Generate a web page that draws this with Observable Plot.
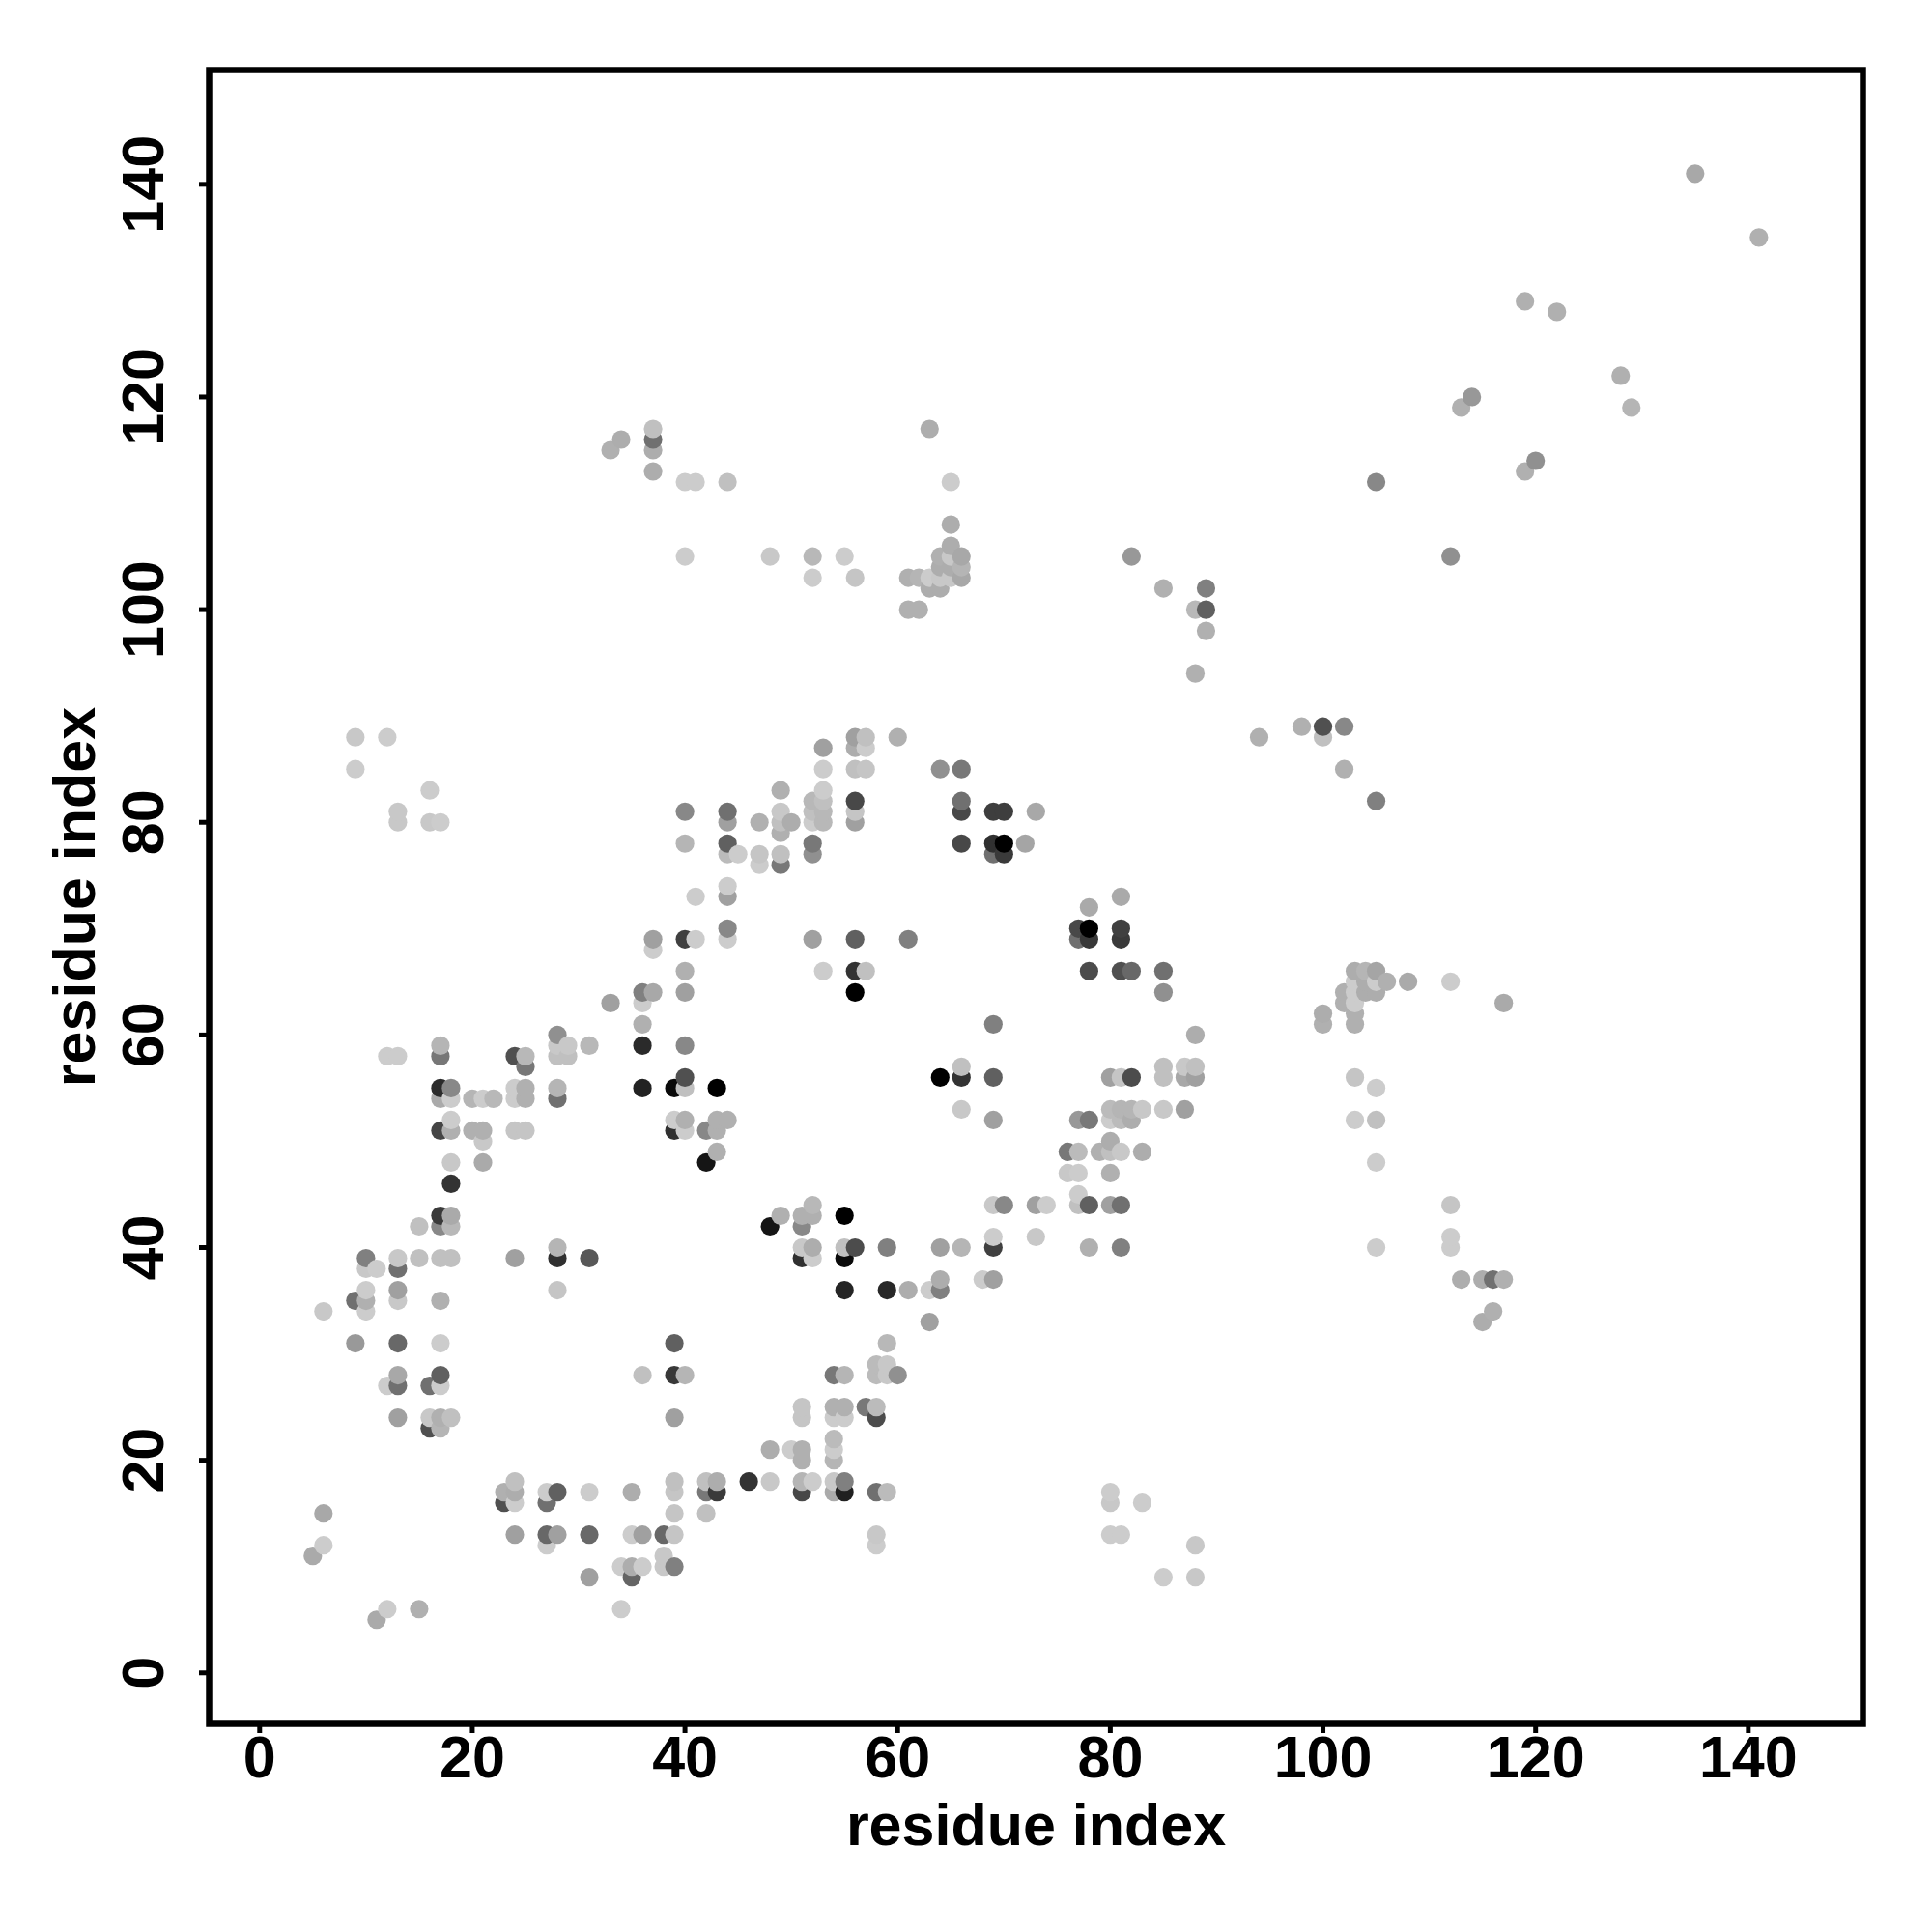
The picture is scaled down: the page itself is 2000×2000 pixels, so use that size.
<!DOCTYPE html>
<html>
<head>
<meta charset="utf-8">
<script src="https://cdn.jsdelivr.net/npm/d3@7"></script>
<script src="https://cdn.jsdelivr.net/npm/@observablehq/plot@0.6"></script>
<style>
html,body{margin:0;padding:0;background:#fff}
svg{display:block}
</style>
</head>
<body>
<div id="chart"></div>
<script>
const residueX = [5,6,9,10,11,12,13,15,16,17,18,20,21,22,23,24,25,27,28,29,31,33,34,35,36,37,38,39,40,41,42,43,44,45,46,47,48,49,50,51,52,53,54,55,56,57,58,59,60,61,62,63,64,65,66,68,69,70,72,73,74,76,77,78,79,80,81,82,83,85,87,88,89,94,98,100,102,103,104,105,106,108,112,113,114,115,116,117,119,120,122,128,129,135,141];
const residueY = [
[11],[12,15,34],[31,35,85,88],[34,35,36,38,39],[5,38],[6,27,58,88],
[24,27,28,31,35,36,38,39,58,80,81],[6,39,42],[23,24,27,80,83],
[23,24,27,28,31,35,39,42,43,51,54,55,58,59,80],[24,39,42,43,46,48,51,52,54,55],
[51,54],[48,50,51,54],[54],[16,17],[13,16,17,18,39,51,54,55,58],[51,54,55,57,58],
[12,13,16,17],[13,17,36,39,40,54,55,58,59,60],[58,59],[9,13,17,39,59],[63,115],[6,10,116],
[9,10,13,17],[10,13,28,55,59,61,63,64],[64,68,69,113,115,116,117],[10,11,13],
[10,13,15,17,18,24,28,31,51,52,55],[28,51,52,55,56,59,64,66,69,78,81,105,112],[69,73,112],
[15,17,18,48,51],[17,18,49,51,52,55],[52,69,70,73,74,77,78,80,81,112],[77],[18],[76,77,80],
[18,21,42,105],[43,76,77,79,80,81,83],[21,80],[17,18,20,21,24,25,39,40,42,43],
[18,39,40,43,44,69,77,78,80,81,82,103,105],[66,80,81,82,83,85,87],[17,18,20,21,22,24,25,28],
[17,18,24,25,28,36,39,40,43,105],[40,64,66,69,80,81,82,85,87,88,103],[25,66,85,87,88],
[12,13,17,24,25,28,29],[17,28,29,31,36,40],[28,88],[36,69,100,103],[100,103],
[33,36,102,103,117],[36,37,40,56,85,102,103,104,105],[103,104,105,106,108,112],
[40,53,56,57,78,81,82,85,103,104,105],[37],[37,40,41,44,52,56,61,77,78,81],[44,77,78,81],[78],
[41,44,81],[44],[47,49],[44,45,47,49,52,69,70],[40,44,52,66,69,70,72],[49],
[13,16,17,44,47,49,50,52,53,56],[13,40,44,49,52,53,56,66,69,70,73],[52,53,56,66,105],[16,49,53],
[9,53,56,57,64,66,102],[53,56,57],[9,12,56,57,60,94,100],[98,100,102],[88],[89],
[61,62,88,89],[63,64,85,89],[52,56,61,62,63,64,65,66],[64,65,66],
[40,48,52,55,64,65,66,82,112],[65],[65],[40,41,44,65,105],[37,119],[120],[33,37],[34,37],[37,63],
[113,129],[114],[128],[122],[119],[141],[135]
];
const greyLevel = [
[170],[204,168,200],[153,112,204,200],[204,176,204,200,128],[170,204],[204,204,204,204],
[160,112,168,104,200,160,112,200,204,200,200],[176,192,192],[80,200,112,200,204],
[181,176,204,96,204,176,192,136,58,69,170,43,119,181,204],[192,192,184,170,51,200,176,204,204,136],
[176,181],[170,200,176,204],[184],[80,176],[160,204,173,192,160,197,204,204,80],[197,176,176,119,184],
[204,104,112,204],[160,96,197,48,181,112,181,192,200,144],[192,200],[160,104,204,88,184],[160,176],[204,204,173],
[101,173,204,173],[204,160,192,34,42,176,204,128],[168,204,160,173,173,112,192],[200,200,104],
[128,197,197,197,192,160,56,96,48,204,10],[181,204,176,192,80,136,160,176,64,181,136,204,204],[204,204,204],
[192,120,192,21,136],[58,173,176,176,176,0],[176,204,136,160,204,187,96,160,112,192],[204],[51],[204,197,176],
[200,173,21,200],[176,120,192,176,192,200,176],[204,173],[72,181,176,176,197,197,48,200,136,176],
[204,204,173,176,184,160,144,120,204,192,184,204,184],[204,184,184,192,204,204,160],[170,200,181,204,187,204,176,120],
[32,128,204,176,181,37,10,192,0,204],[76,0,51,96,160,197,72,192,173,160,197],[120,192,197,204,192],
[204,200,112,76,187,187,187],[187,200,200,184,40,128],[144,176],[173,128,176,176],[176,181],
[160,204,173,204,173],[128,173,160,0,144,173,200,173,176],[200,173,200,173,173,204],
[181,200,51,192,72,72,112,120,168,181,168],[204],[160,64,204,200,160,96,128,112,48,62],[136,58,0,62],[165],
[200,160,168],[204],[200,120],[192,204,204,187,152,112,72],[176,96,120,76,56,0,170],[176],
[204,200,204,160,176,192,173,204,187,160],[204,128,112,200,187,181,197,80,58,64,170],[173,181,76,104,152],[204,173,200],
[204,200,192,192,144,112,176],[160,168,200],[200,200,160,192,173,176,184],[176,96,128],[176],[176],
[176,173,192,80],[176,176,176,136],[204,197,176,176,204,204,204,173],[173,173,181],
[204,204,192,204,173,204,165,128,136],[176],[170],[204,204,197,204,144],[173,176],[152],[173,173],[176,112],[176,170],
[176,176],[144],[176],[176],[181],[168],[176]
];
const tickValues = [0,20,40,60,80,100,120,140];
const axisLabel = "residue index";

const contacts = residueX.flatMap((x,i)=>residueY[i].map((y,j)=>({x,y,shade:greyLevel[i][j]})));

const plot = Plot.plot({
  width:2000,height:2000,
  marginLeft:216,marginRight:72,marginTop:72,marginBottom:216,
  style:{fontFamily:"'Liberation Sans',Arial,sans-serif",fontWeight:"bold",background:"#fff",color:"#000",overflow:"visible"},
  x:{domain:[-4.75,150.78]},
  y:{domain:[-4.79,150.75]},
  color:{type:"linear",domain:[0,255],range:["#000","#fff"],legend:false},
  marks:[
    Plot.dot(contacts,{x:"x",y:"y",fill:"shade",r:9.6,stroke:null}),
    Plot.frame({stroke:"#000",strokeWidth:6.5}),
    Plot.axisX({ticks:tickValues,tickSize:10,tickPadding:2,fontSize:61,strokeWidth:5,label:axisLabel,labelAnchor:"center",labelArrow:"none",labelOffset:125,tickFormat:d=>String(d)}),
    Plot.axisY({ticks:tickValues,tickSize:10,tickPadding:38,fontSize:61,strokeWidth:5,tickRotate:-90,label:axisLabel,labelAnchor:"center",labelArrow:"none",labelOffset:162,tickFormat:d=>String(d)})
  ]
});
document.getElementById("chart").appendChild(plot);
</script>
</body>
</html>
